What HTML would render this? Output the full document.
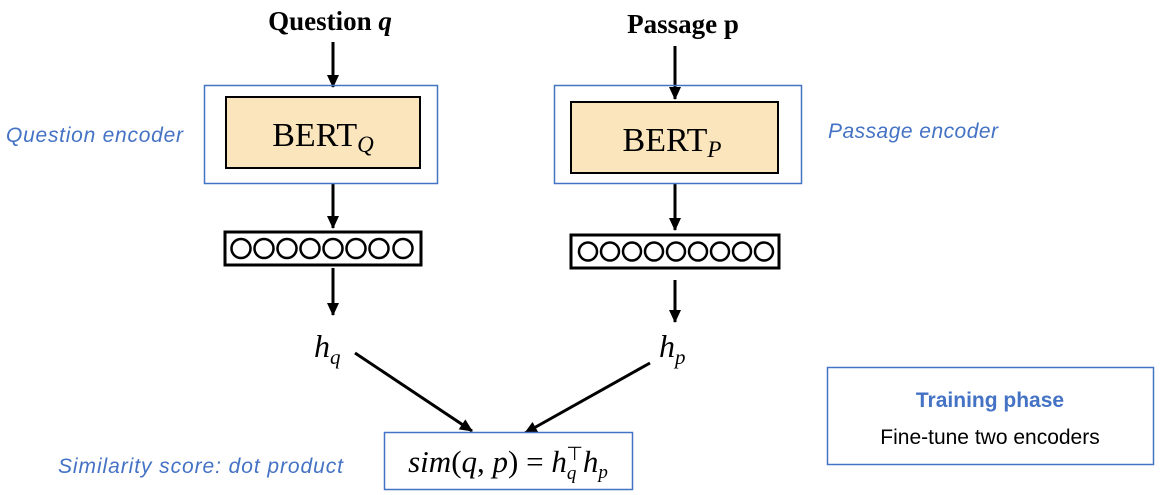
<!DOCTYPE html>
<html><head><meta charset="utf-8"><style>
body{margin:0;background:#fff;width:1160px;height:495px;overflow:hidden}
svg{display:block}
.serif{font-family:"Liberation Serif",serif}
.blue{font-family:"Liberation Sans",sans-serif;fill:#4472c4;font-style:italic;font-size:21px}
</style></head><body>
<svg width="1160" height="495" viewBox="0 0 1160 495">
<defs><marker id="a" markerWidth="14" markerHeight="14" refX="12" refY="7" orient="auto" markerUnits="userSpaceOnUse"><path d="M0,1 L13,7 L0,13 z" fill="#000"/></marker></defs>
<text x="330" y="30" class="serif" font-size="27" font-weight="bold" text-anchor="middle">Question <tspan font-style="italic">q</tspan></text>
<text x="683" y="33" class="serif" font-size="27" font-weight="bold" text-anchor="middle">Passage p</text>
<g stroke="#000" stroke-width="3" marker-end="url(#a)">
<line x1="333" y1="42" x2="333" y2="87"/>
<line x1="333" y1="183" x2="333" y2="228"/>
<line x1="333" y1="268" x2="333" y2="315"/>
<line x1="675" y1="46" x2="675" y2="99"/>
<line x1="675" y1="184" x2="675" y2="230"/>
<line x1="675" y1="280" x2="675" y2="322"/>
<line x1="355" y1="353" x2="472" y2="431"/>
<line x1="650" y1="363" x2="525" y2="433"/>
</g>
<rect x="204.5" y="85.5" width="233" height="98" fill="none" stroke="#4472c4" stroke-width="1.5"/>
<rect x="226" y="97" width="194" height="71" fill="#fbe5bd" stroke="#000" stroke-width="2"/>
<text x="323" y="146" class="serif" font-size="34" text-anchor="middle">BERT<tspan font-style="italic" font-size="23" dy="6">Q</tspan></text>
<rect x="554.5" y="85.5" width="247" height="98" fill="none" stroke="#4472c4" stroke-width="1.5"/>
<rect x="571" y="102" width="207" height="71" fill="#fbe5bd" stroke="#000" stroke-width="2"/>
<text x="672" y="151" class="serif" font-size="34" text-anchor="middle">BERT<tspan font-style="italic" font-size="23" dy="6">P</tspan></text>
<rect x="225" y="232" width="196" height="33" fill="#fff" stroke="#000" stroke-width="3"/>
<rect x="571" y="235" width="208" height="33" fill="#fff" stroke="#000" stroke-width="3"/>
<g fill="none" stroke="#000" stroke-width="2.5">
<circle cx="241" cy="248.5" r="9.5"/><circle cx="264" cy="248.5" r="9.5"/><circle cx="287" cy="248.5" r="9.5"/><circle cx="310" cy="248.5" r="9.5"/><circle cx="333" cy="248.5" r="9.5"/><circle cx="356" cy="248.5" r="9.5"/><circle cx="379" cy="248.5" r="9.5"/><circle cx="403" cy="248.5" r="9.5"/>
<circle cx="588" cy="251.5" r="9"/><circle cx="610" cy="251.5" r="9"/><circle cx="632" cy="251.5" r="9"/><circle cx="654" cy="251.5" r="9"/><circle cx="676" cy="251.5" r="9"/><circle cx="698" cy="251.5" r="9"/><circle cx="720" cy="251.5" r="9"/><circle cx="742" cy="251.5" r="9"/><circle cx="764" cy="251.5" r="9"/>
</g>
<text x="314" y="357" class="serif" font-size="32" font-style="italic">h<tspan font-size="21" dy="7">q</tspan></text>
<text x="659" y="357" class="serif" font-size="32" font-style="italic">h<tspan font-size="21" dy="7">p</tspan></text>
<text x="6" y="142" class="blue" textLength="177">Question encoder</text>
<text x="828" y="138" class="blue" textLength="170">Passage encoder</text>
<text x="58" y="473" class="blue" textLength="285">Similarity score: dot product</text>
<rect x="384.5" y="432.5" width="248" height="57" fill="#fff" stroke="#4472c4" stroke-width="1.5"/>
<text x="508" y="472" class="serif" font-size="31" text-anchor="middle"><tspan font-style="italic">sim</tspan>(<tspan font-style="italic">q</tspan>, <tspan font-style="italic">p</tspan>) = <tspan font-style="italic">h</tspan><tspan font-size="19" dy="7" font-style="italic">q</tspan><tspan font-size="19" dx="-10" dy="-19">⊤</tspan><tspan font-style="italic" dy="12">h</tspan><tspan font-size="19" dy="6" font-style="italic">p</tspan></text>
<rect x="827.5" y="367.5" width="326" height="97" fill="none" stroke="#4472c4" stroke-width="1.5"/>
<text x="990" y="407" font-family="Liberation Sans,sans-serif" font-weight="bold" font-size="21" fill="#4472c4" text-anchor="middle">Training phase</text>
<text x="990" y="444" font-family="Liberation Sans,sans-serif" font-size="21" fill="#000" text-anchor="middle">Fine-tune two encoders</text>
</svg>
</body></html>
